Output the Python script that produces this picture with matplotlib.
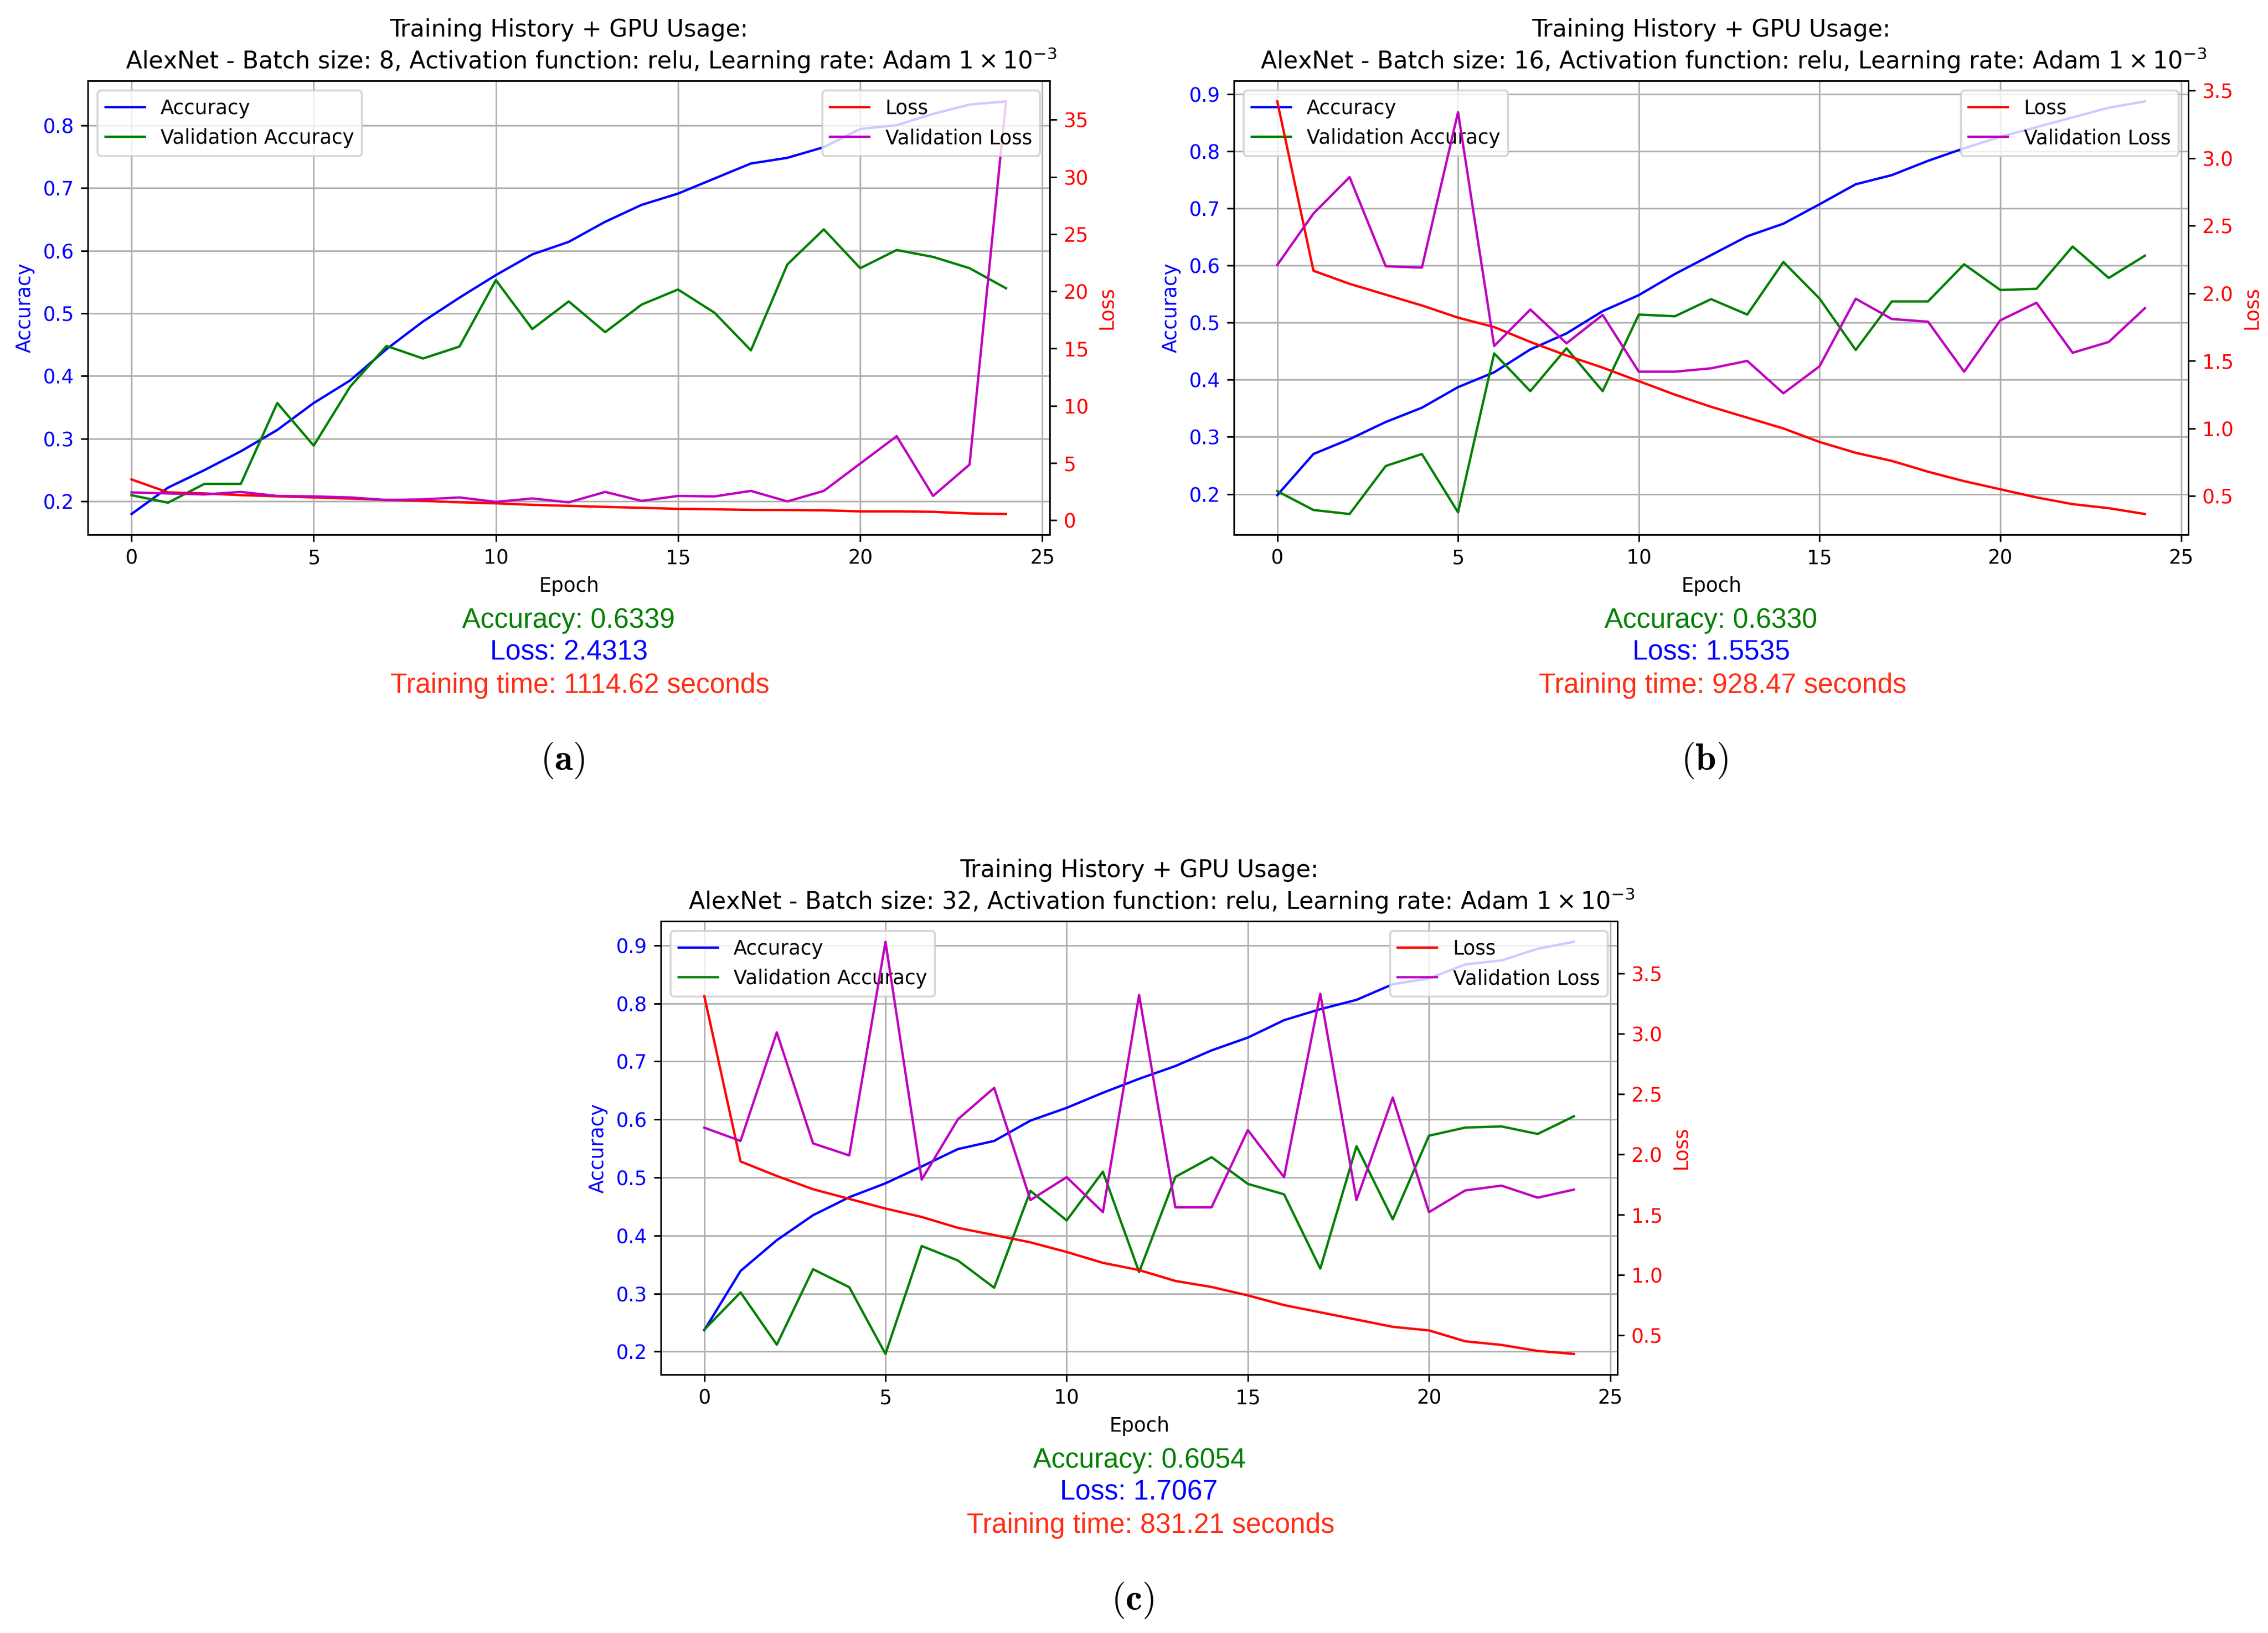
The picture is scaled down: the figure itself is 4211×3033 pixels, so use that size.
import matplotlib
matplotlib.use("Agg")
import matplotlib.pyplot as plt

W, H, DPI = 4211, 3033, 263

epochs = list(range(25))

# (a) batch size 8
acc_a = [0.180, 0.222, 0.250, 0.280, 0.314, 0.357, 0.393, 0.443, 0.487, 0.525,
         0.561, 0.594, 0.614, 0.646, 0.673, 0.691, 0.715, 0.739, 0.748, 0.765,
         0.794, 0.800, 0.818, 0.833, 0.838]
val_acc_a = [0.210, 0.198, 0.228, 0.228, 0.357, 0.289, 0.383, 0.448, 0.428, 0.447,
             0.553, 0.475, 0.519, 0.470, 0.514, 0.538, 0.501, 0.441, 0.578, 0.6339,
             0.572, 0.601, 0.590, 0.572, 0.540]
loss_a = [3.57, 2.44, 2.35, 2.20, 2.10, 2.00, 1.90, 1.78, 1.70, 1.57,
          1.48, 1.35, 1.26, 1.17, 1.09, 1.00, 0.96, 0.91, 0.90, 0.87,
          0.78, 0.78, 0.74, 0.60, 0.55]
val_loss_a = [2.44, 2.35, 2.26, 2.48, 2.13, 2.09, 2.00, 1.78, 1.83, 2.00,
              1.61, 1.91, 1.57, 2.48, 1.70, 2.13, 2.09, 2.57, 1.65, 2.57,
              4.96, 7.35, 2.13, 4.87, 36.6]

# (b) batch size 16
acc_b = [0.198, 0.270, 0.296, 0.326, 0.351, 0.387, 0.413, 0.453, 0.481, 0.520,
         0.548, 0.585, 0.618, 0.651, 0.673, 0.707, 0.742, 0.758, 0.783, 0.805,
         0.825, 0.842, 0.859, 0.876, 0.887]
val_acc_b = [0.205, 0.172, 0.165, 0.249, 0.270, 0.168, 0.446, 0.380, 0.455, 0.380,
             0.514, 0.511, 0.541, 0.514, 0.606, 0.542, 0.452, 0.537, 0.537, 0.602,
             0.557, 0.559, 0.633, 0.578, 0.617]
loss_b = [3.42, 2.167, 2.07, 1.99, 1.91, 1.82, 1.75, 1.64, 1.54, 1.45,
          1.35, 1.25, 1.16, 1.08, 1.00, 0.90, 0.82, 0.76, 0.68, 0.61,
          0.55, 0.49, 0.44, 0.41, 0.367]
val_loss_b = [2.21, 2.59, 2.86, 2.20, 2.19, 3.34, 1.61, 1.88, 1.63, 1.84,
              1.42, 1.42, 1.445, 1.50, 1.26, 1.46, 1.96, 1.81, 1.79, 1.42,
              1.80, 1.93, 1.56, 1.64, 1.89]

# (c) batch size 32
acc_c = [0.237, 0.339, 0.392, 0.435, 0.466, 0.490, 0.519, 0.549, 0.563, 0.598,
         0.620, 0.646, 0.670, 0.692, 0.719, 0.741, 0.771, 0.790, 0.806, 0.833,
         0.843, 0.867, 0.874, 0.894, 0.906]
val_acc_c = [0.238, 0.302, 0.212, 0.342, 0.311, 0.196, 0.382, 0.357, 0.310, 0.477,
             0.426, 0.510, 0.337, 0.501, 0.535, 0.489, 0.471, 0.343, 0.554, 0.428,
             0.572, 0.586, 0.588, 0.575, 0.6054]
loss_c = [3.31, 1.94, 1.82, 1.71, 1.63, 1.55, 1.48, 1.39, 1.33, 1.27,
          1.19, 1.10, 1.04, 0.95, 0.90, 0.83, 0.75, 0.69, 0.63, 0.57,
          0.54, 0.45, 0.42, 0.37, 0.345]
val_loss_c = [2.22, 2.11, 3.01, 2.09, 1.99, 3.76, 1.79, 2.29, 2.55, 1.62,
              1.81, 1.52, 3.32, 1.56, 1.56, 2.20, 1.81, 3.33, 1.62, 2.47,
              1.52, 1.70, 1.74, 1.64, 1.7067]

batch_sizes = [8, 16, 32]
final_acc = ["0.6339", "0.6330", "0.6054"]
final_loss = ["2.4313", "1.5535", "1.7067"]
train_time = ["1114.62", "928.47", "831.21"]
panel_tags = ["a", "b", "c"]

# axes boxes in pixels: left, top, right, bottom
boxes = [(163, 150, 1949, 993), (2291, 150, 4063, 993), (1227, 1711, 3003, 2553)]

fig = plt.figure(figsize=(W / DPI, H / DPI), dpi=DPI)

series = [(acc_a, val_acc_a, loss_a, val_loss_a),
          (acc_b, val_acc_b, loss_b, val_loss_b),
          (acc_c, val_acc_c, loss_c, val_loss_c)]

for i, (acc, val_acc, loss, val_loss) in enumerate(series):
    l, t, r, b = boxes[i]
    ax1 = fig.add_axes([l / W, 1 - b / H, (r - l) / W, (b - t) / H])
    ax1.plot(epochs, acc, color="b", lw=1.2, label="Accuracy")
    ax1.plot(epochs, val_acc, color="g", lw=1.2, label="Validation Accuracy")
    ax1.set_xlabel("Epoch")
    ax1.set_ylabel("Accuracy", color="b")
    ax1.tick_params(axis="y", labelcolor="b")
    ax1.grid(True)
    ax1.legend(loc="upper left")

    ax2 = ax1.twinx()
    ax2.plot(epochs, loss, color="r", lw=1.2, label="Loss")
    ax2.plot(epochs, val_loss, color="m", lw=1.2, label="Validation Loss")
    ax2.set_ylabel("Loss", color="r")
    ax2.tick_params(axis="y", labelcolor="r")
    ax2.legend(loc="upper right")

    # second title line sits a little right of centre in the original
    ax1.set_title("Training History + GPU Usage:\n      "
                  f"AlexNet - Batch size: {batch_sizes[i]}, Activation function: relu, "
                  r"Learning rate: Adam $1 \times 10^{-3}$")

    cx = (l + r) / 2 / W
    fig.text(cx, 1 - (b + 173) / H, f"Accuracy: {final_acc[i]}", color="green",
             ha="center", va="baseline", family="Liberation Sans", fontsize=14)
    fig.text(cx, 1 - (b + 232) / H, f"Loss: {final_loss[i]}", color="blue",
             ha="center", va="baseline", family="Liberation Sans", fontsize=14)
    fig.text(cx + 21 / W, 1 - (b + 294) / H, f"Training time: {train_time[i]} seconds",
             color="#ff2e14", ha="center", va="baseline", family="Liberation Sans",
             fontsize=14)
    fig.text(cx - 12 / W, 1 - (b + 419) / H, r"$(\mathbf{" + panel_tags[i] + "})$",
             ha="center", va="center", fontsize=19, math_fontfamily="cm")

fig.savefig("out.png", dpi=DPI)
